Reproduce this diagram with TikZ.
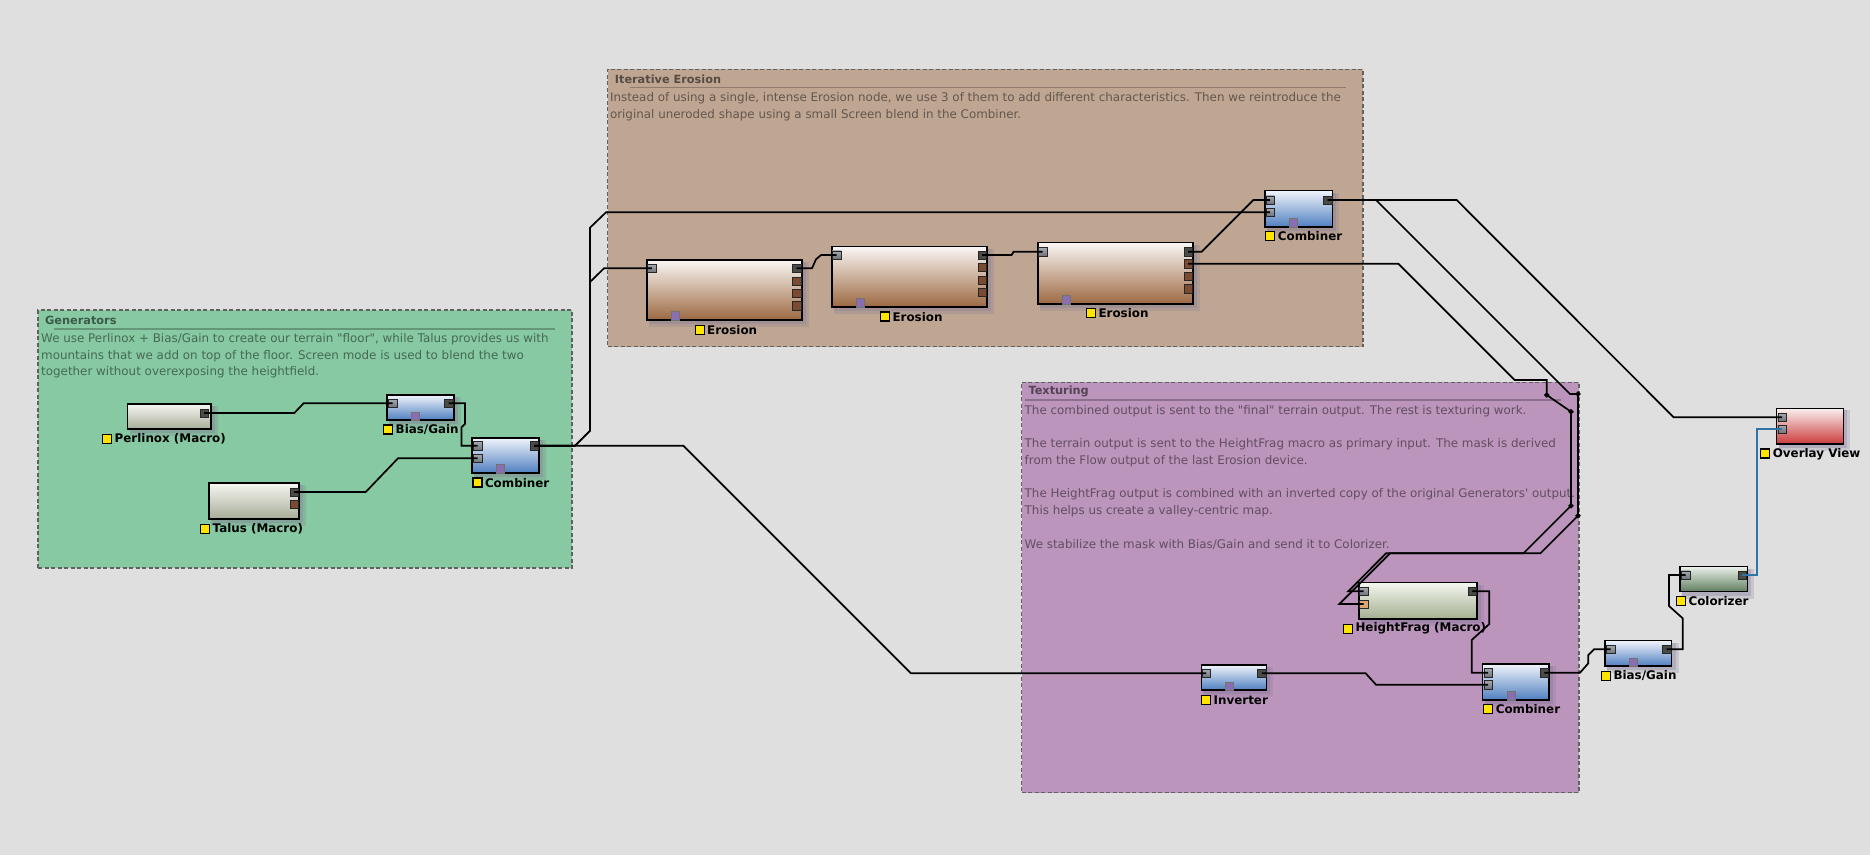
\documentclass[tikz,border=0pt]{standalone}
\usepackage{fontspec}
\setmainfont{DejaVu Sans}[Ligatures=TeXOff]
\usetikzlibrary{shapes.geometric}
\definecolor{bgc}{HTML}{DFDFDF}
\definecolor{gGreen}{HTML}{86C9A2}
\definecolor{gBrown}{HTML}{BFA693}
\definecolor{gPurple}{HTML}{BC95BC}
\definecolor{bTop}{HTML}{F0F4FB}
\definecolor{bBot}{HTML}{4F7FC0}
\definecolor{mTop}{HTML}{F6F7F1}
\definecolor{mBot}{HTML}{A7AC98}
\definecolor{hTop}{HTML}{F3F6EF}
\definecolor{hBot}{HTML}{A3AF90}
\definecolor{eTop}{HTML}{FAF6F4}
\definecolor{eBot}{HTML}{9C6942}
\definecolor{cTop}{HTML}{E9F0E9}
\definecolor{cBot}{HTML}{5F7D5F}
\definecolor{rTop}{HTML}{FAF0F0}
\definecolor{rBot}{HTML}{CB3B3B}
\definecolor{pInT}{HTML}{A4AAB0}
\definecolor{pInB}{HTML}{6C7278}
\definecolor{pDark}{HTML}{4A4A47}
\definecolor{pBrown}{HTML}{7A4A32}
\definecolor{pOrange}{HTML}{D9A574}
\definecolor{tabc}{HTML}{8A6FB0}
\definecolor{yel}{HTML}{FFE400}
\definecolor{shadowc}{HTML}{7E7494}
\definecolor{bluewire}{HTML}{2F73A8}
\tikzset{
  wire/.style={line width=1.7pt, black},
  grpbox/.style={draw=black!62, line width=1.3pt, dash pattern=on 4pt off 2.5pt},
  grptitle/.style={anchor=west, inner sep=0, font=\bfseries\fontsize{11.3}{13}\selectfont, text=black, text opacity=0.55},
  grpdesc/.style={anchor=west, inner sep=0, font=\fontsize{11.9}{13}\selectfont, text=black, text opacity=0.48},
  grpline/.style={line width=1.4pt, black, opacity=0.25},
  devbase/.style={draw=black, line width=1.5pt, inner sep=0, outer sep=0},
  bluedev/.style={devbase, top color=bTop, bottom color=bBot},
  macrodev/.style={devbase, top color=mTop, bottom color=mBot},
  hfdev/.style={devbase, top color=hTop, bottom color=hBot},
  erodev/.style={devbase, top color=eTop, bottom color=eBot},
  coldev/.style={devbase, top color=cTop, bottom color=cBot},
  ovdev/.style={devbase, top color=rTop, bottom color=rBot},
  portbase/.style={draw=black!85, line width=0.5pt, minimum size=8.5pt, inner sep=0, outer sep=0},
  inport/.style={portbase, top color=pInT, bottom color=pInB},
  outport/.style={portbase, fill=pDark},
  brport/.style={portbase, fill=pBrown},
  orport/.style={portbase, fill=pOrange},
  tabbox/.style={draw=black!55, line width=0.5pt, fill=tabc, minimum size=8.5pt, inner sep=0},
  ysq/.style={draw=black, line width=1.1pt, fill=yel, minimum size=9pt, inner sep=0},
  lbl/.style={anchor=west, inner sep=0, font=\bfseries\fontsize{11.9}{13}\selectfont},
  junct/.style={diamond, fill=black, inner sep=0, minimum size=6pt},
}
\newcommand{\dev}[6]{%
  \pgfmathsetmacro{\devW}{#5-#3}%
  \pgfmathsetmacro{\devH}{#6-#4}%
  \pgfmathsetmacro{\devX}{(#3+#5)/2}%
  \pgfmathsetmacro{\devY}{(#4+#6)/2}%
  \fill[shadowc, opacity=0.22] (#3+2,#4+2) rectangle (#5+7,#6+7);
  \fill[shadowc, opacity=0.3] (#3+2,#4+2) rectangle (#5+4,#6+4);
  \node[#2, minimum width=\devW pt, minimum height=\devH pt] (#1) at (\devX,\devY) {};
}
\begin{document}
\begin{tikzpicture}[x=1pt,y=-1pt]
\fill[bgc] (0,0) rectangle (1870,855);
\useasboundingbox (0,0) rectangle (1870,855);

% ---------------- groups ----------------
\node[grpbox, fill=gGreen, minimum width=534pt, minimum height=258pt, inner sep=0] (grpGen) at (305,439) {};
\node[grptitle] (genTitle) at (45,320) {Generators};
\draw[grpline] (54,329) -- (555,329);
\node[grpdesc] (genD1) at (41,339.5) {We use Perlinox + Bias/Gain to create our terrain "floor", while Talus provides us with};
\node[grpdesc] (genD2) at (41,356) {mountains that we add on top of the floor. Screen mode is used to blend the two};
\node[grpdesc] (genD3) at (41,372.5) {together without overexposing the heightfield.};

\node[grpbox, fill=gBrown, minimum width=755.5pt, minimum height=277.4pt, inner sep=0] (grpEro) at (985.25,208) {};
\node[grptitle] (eroTitle) at (614.7,79) {Iterative Erosion};
\draw[grpline] (630,87.7) -- (1345.6,87.7);
\node[grpdesc] (eroD1) at (609.8,98.5) {Instead of using a single, intense Erosion node, we use 3 of them to add different characteristics. Then we reintroduce the};
\node[grpdesc] (eroD2) at (609.8,115) {original uneroded shape using a small Screen blend in the Combiner.};

\node[grpbox, fill=gPurple, minimum width=557.5pt, minimum height=410.4pt, inner sep=0] (grpTex) at (1300.25,587.5) {};
\node[grptitle] (texTitle) at (1028.4,391.7) {Texturing};
\draw[grpline] (1025,400) -- (1561,400);
\node[grpdesc] (texD1) at (1024.5,411.7) {The combined output is sent to the "final" terrain output. The rest is texturing work.};
\node[grpdesc] (texD2) at (1024.5,444.7) {The terrain output is sent to the HeightFrag macro as primary input. The mask is derived};
\node[grpdesc] (texD3) at (1024.5,461.3) {from the Flow output of the last Erosion device.};
\node[grpdesc] (texD4) at (1024.5,494.3) {The HeightFrag output is combined with an inverted copy of the original Generators' output.};
\node[grpdesc] (texD5) at (1024.5,511.3) {This helps us create a valley-centric map.};
\node[grpdesc] (texD6) at (1024.5,544.3) {We stabilize the mask with Bias/Gain and send it to Colorizer.};

% ---------------- devices ----------------
% Generators
\dev{perl}{macrodev}{127.5}{404}{211}{429}
\node[outport] (perlOut) at (204,413) {};
\node[ysq] (perlY) at (107.2,439) {};
\node[lbl] (perlT) at (114.5,439) {Perlinox (Macro)};

\dev{gbias}{bluedev}{387}{395}{454}{420}
\node[inport] (gbiasIn) at (392.5,403.3) {};
\node[outport] (gbiasOut) at (448.6,403.3) {};
\node[tabbox, minimum height=8pt] (gbiasTab) at (415,416) {};
\node[ysq] (gbiasY) at (388.2,429.5) {};
\node[lbl] (gbiasT) at (395.5,429.7) {Bias/Gain};

\dev{gcomb}{bluedev}{472}{438}{539}{473}
\node[inport] (gcombIn1) at (477.5,445.7) {};
\node[inport] (gcombIn2) at (477.5,458.3) {};
\node[outport] (gcombOut) at (534,445.7) {};
\node[tabbox] (gcombTab) at (500,468.8) {};
\node[ysq] (gcombY) at (477.5,482.5) {};
\node[lbl] (gcombT) at (484.8,482.7) {Combiner};

\dev{talus}{macrodev}{209}{483}{299}{519}
\node[outport] (talusOut) at (294,492) {};
\node[brport] (talusOut2) at (294,504) {};
\node[ysq] (talusY) at (205.3,528.7) {};
\node[lbl] (talusT) at (212.5,528.7) {Talus (Macro)};

% Erosion
\dev{ero1}{erodev}{647}{260}{802}{320}
\node[inport] (ero1In) at (651.8,268.3) {};
\node[outport] (ero1Out) at (796.5,268.3) {};
\node[brport] (ero1P2) at (796.5,281) {};
\node[brport] (ero1P3) at (796.5,293.3) {};
\node[brport] (ero1P4) at (796.5,305.7) {};
\node[tabbox] (ero1Tab) at (675,315.8) {};
\node[ysq] (ero1Y) at (699.7,329.8) {};
\node[lbl] (ero1T) at (707,330) {Erosion};

\dev{ero2}{erodev}{832}{246.7}{987}{307}
\node[inport] (ero2In) at (836.5,255) {};
\node[outport] (ero2Out) at (982,255) {};
\node[brport] (ero2P2) at (982,267.3) {};
\node[brport] (ero2P3) at (982,280) {};
\node[brport] (ero2P4) at (982,292.3) {};
\node[tabbox] (ero2Tab) at (860.3,302.8) {};
\node[ysq] (ero2Y) at (884.9,316.5) {};
\node[lbl] (ero2T) at (892.3,316.7) {Erosion};

\dev{ero3}{erodev}{1038}{242.7}{1193}{304}
\node[inport] (ero3In) at (1042.5,251.7) {};
\node[outport] (ero3Out) at (1188,251.7) {};
\node[brport] (ero3P2) at (1188,263.7) {};
\node[brport] (ero3P3) at (1188,276.3) {};
\node[brport] (ero3P4) at (1188,288.7) {};
\node[tabbox] (ero3Tab) at (1066,299.8) {};
\node[ysq] (ero3Y) at (1091,313.2) {};
\node[lbl] (ero3T) at (1098.3,313) {Erosion};

\dev{ecomb}{bluedev}{1265}{190.7}{1332.3}{227}
\node[inport] (ecombIn1) at (1270,200) {};
\node[inport] (ecombIn2) at (1270,212.3) {};
\node[outport] (ecombOut) at (1327.5,200) {};
\node[tabbox] (ecombTab) at (1293,222.8) {};
\node[ysq] (ecombY) at (1270.4,236.4) {};
\node[lbl] (ecombT) at (1277.7,236.2) {Combiner};

% Texturing
\dev{hf}{hfdev}{1359}{582.7}{1477}{619}
\node[inport] (hfIn1) at (1363.7,591.3) {};
\node[orport] (hfIn2) at (1363.7,604) {};
\node[outport] (hfOut) at (1472,591.3) {};
\node[ysq] (hfY) at (1348,628.7) {};
\node[lbl] (hfT) at (1355.3,628.7) {HeightFrag (Macro)};

\dev{tcomb}{bluedev}{1482.7}{664}{1549}{700}
\node[inport] (tcombIn1) at (1488,672.7) {};
\node[inport] (tcombIn2) at (1488,684.7) {};
\node[outport] (tcombOut) at (1544.3,672.7) {};
\node[tabbox] (tcombTab) at (1511,695.8) {};
\node[ysq] (tcombY) at (1488.3,709.3) {};
\node[lbl] (tcombT) at (1495.6,709.3) {Combiner};

\dev{inv}{bluedev}{1201.4}{665}{1266.4}{690}
\node[inport] (invIn) at (1206,673.3) {};
\node[outport] (invOut) at (1261.8,673.3) {};
\node[tabbox, minimum height=8pt] (invTab) at (1229,686) {};
\node[ysq] (invY) at (1206.3,699.7) {};
\node[lbl] (invT) at (1213.5,700) {Inverter};

% Right side
\dev{rbias}{bluedev}{1605}{640.7}{1671.7}{666}
\node[inport] (rbiasIn) at (1610.7,649.3) {};
\node[outport] (rbiasOut) at (1666.7,649.3) {};
\node[tabbox, minimum height=8pt] (rbiasTab) at (1633,662) {};
\node[ysq] (rbiasY) at (1606,676) {};
\node[lbl] (rbiasT) at (1613.3,676) {Bias/Gain};

\dev{col}{coldev}{1680}{566.7}{1747.3}{591.7}
\node[inport] (colIn) at (1685.5,575) {};
\node[outport] (colOut) at (1742,575) {};
\node[ysq] (colY) at (1681,601.3) {};
\node[lbl] (colT) at (1688.3,600.9) {Colorizer};

\dev{ov}{ovdev}{1776.7}{408.3}{1843.3}{444}
\node[inport] (ovIn1) at (1782.2,417.3) {};
\node[inport] (ovIn2) at (1782.2,429.3) {};
\node[ysq] (ovY) at (1765.3,453.5) {};
\node[lbl] (ovT) at (1772.6,454) {Overlay View};

% ---------------- wires ----------------
\draw[wire] (perlOut.center) -- (294.3,413) -- (303.6,403.3) -- (gbiasIn.center);
\draw[wire] (gbiasOut.center) -- (465,403.3) -- (465,424) -- (461.4,427.3) -- (461.4,445.7) -- (gcombIn1.center);
\draw[wire] (talusOut.center) -- (365.7,492) -- (398,458.3) -- (gcombIn2.center);
\draw[wire] (gcombOut.center) -- (575,445.7) -- (590,430.7) -- (590,227.7) -- (606,212.3) -- (ecombIn2.center);
\draw[wire] (gcombOut.center) -- (575,445.7) -- (590,430.7) -- (590,282) -- (604,268.3) -- (ero1In.center);
\draw[wire] (gcombOut.center) -- (683.3,445.7) -- (910.9,673.3) -- (invIn.center);
\draw[wire] (ero1Out.center) -- (812,268.3) -- (816,259.3) -- (821,255) -- (ero2In.center);
\draw[wire] (ero2Out.center) -- (1011.6,255) -- (1013.6,251.7) -- (ero3In.center);
\draw[wire] (ero3Out.center) -- (1201.7,251.7) -- (1253.3,200) -- (ecombIn1.center);
\draw[wire] (ecombOut.center) -- (1456.7,200) -- (1673.7,417.3) -- (ovIn1.center);
\draw[wire] (ecombOut.center) -- (1376,200) -- (1570,394) -- (1578,394) -- (1578,515.7) -- (1540.4,553.3) -- (1386,553.3) -- (1348.3,591.3) -- (hfIn1.center);
\draw[wire] (ero3P2.center) -- (1398.3,263.7) -- (1514.6,380) -- (1546.7,380) -- (1546.7,395) -- (1571,411.7) -- (1571,505.7) -- (1523.4,553.3) -- (1390,553.3) -- (1339.3,604) -- (hfIn2.center);
\draw[wire] (hfOut.center) -- (1489.3,591.3) -- (1489.3,624) -- (1471.7,640) -- (1471.7,672.7) -- (tcombIn1.center);
\draw[wire] (invOut.center) -- (1365.7,673.3) -- (1376,684.7) -- (tcombIn2.center);
\draw[wire] (tcombOut.center) -- (1580,672.7) -- (1588.3,663.3) -- (1588.3,655) -- (1594,649.3) -- (rbiasIn.center);
\draw[wire] (rbiasOut.center) -- (1682.7,649.3) -- (1682.7,618.3) -- (1669,606) -- (1669,575) -- (colIn.center);
\draw[wire, bluewire] (colOut.center) -- (1757.2,575) -- (1757.2,429.3) -- (ovIn2.center);

% junctions
\node[junct] (j1) at (1546.7,395) {};
\node[junct] (j2) at (1578,394) {};
\node[junct] (j3) at (1571,411.7) {};
\node[junct] (j4) at (1571,505.7) {};
\node[junct] (j5) at (1578,515.7) {};
\end{tikzpicture}
\end{document}
